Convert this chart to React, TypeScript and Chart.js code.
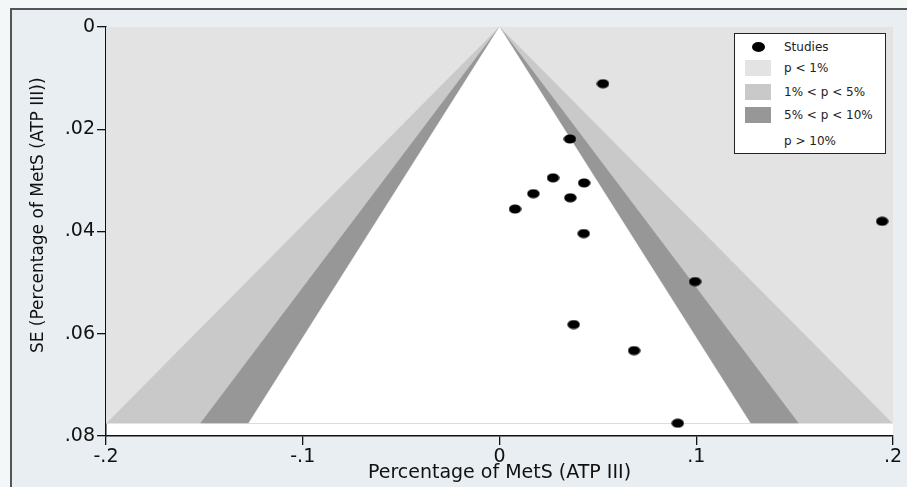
import React, { useEffect, useRef } from "react";
import { Chart, registerables } from "chart.js";

Chart.register(...registerables);

// Study estimates (effect) and their standard errors
const effects = [0.0526, 0.0358, 0.0272, 0.043, 0.0172, 0.036, 0.0079, 0.0428, 0.1945, 0.0994, 0.0377, 0.0684, 0.0906];
const ses = [0.0111, 0.0219, 0.0295, 0.0305, 0.0326, 0.0334, 0.0356, 0.0404, 0.038, 0.0498, 0.0582, 0.0633, 0.0775];

// Contour z values for p = 1%, 5%, 10%
const contourZ = [2.576, 1.96, 1.645];
const contourColors = ["#c9c9c9", "#979797", "#ffffff"];
const outerColor = "#e3e3e3";

const legendLabels = ["Studies", "p < 1%", "1% < p < 5%", "5% < p < 10%", "p > 10%"];
const legendColors = ["#000000", outerColor, "#c9c9c9", "#979797", "#ffffff"];

const xTicks = [-0.2, -0.1, 0, 0.1, 0.2];
const yTicks = [0, 0.02, 0.04, 0.06, 0.08];

const xTitle = "Percentage of MetS (ATP III)";
const yTitle = "SE (Percentage of MetS (ATP III))";

const FONT = "'DejaVu Sans', 'Liberation Sans', Arial, sans-serif";

function fmt(v: number, d: number) {
  let s = Number(v).toFixed(d).replace(/0+$/, "").replace(/\.$/, "");
  s = s.replace(/^(-?)0\./, "$1.");
  if (s === "-0") s = "0";
  return s;
}

function makeEllipse(): HTMLCanvasElement {
  const c = document.createElement("canvas");
  c.width = 13;
  c.height = 10;
  const ctx = c.getContext("2d")!;
  ctx.fillStyle = "#000";
  ctx.beginPath();
  ctx.ellipse(6.5, 5, 6.2, 4.6, 0, 0, Math.PI * 2);
  ctx.fill();
  return c;
}

const whiteArea = {
  id: "whiteArea",
  beforeDraw(chart: any) {
    const { ctx, chartArea } = chart;
    ctx.save();
    ctx.fillStyle = "#ffffff";
    ctx.fillRect(chartArea.left, chartArea.top, chartArea.right - chartArea.left, chartArea.bottom - chartArea.top);
    ctx.restore();
  },
};

export default function App() {
  const ref = useRef<HTMLCanvasElement>(null);

  useEffect(() => {
    if (!ref.current) return;
    const maxSE = Math.max(...ses);
    const ell = makeEllipse();

    const regionSets: any[] = contourZ.map((z, i) => ({
      label: "z" + z,
      data: [
        { x: -z * maxSE, y: maxSE },
        { x: 0, y: 0 },
        { x: z * maxSE, y: maxSE },
      ],
      showLine: true,
      fill: { value: maxSE },
      backgroundColor: contourColors[i],
      borderColor: contourColors[i],
      borderWidth: 0.6,
      pointRadius: 0,
      order: 3 - i,
    }));

    const chart = new Chart(ref.current, {
      type: "scatter",
      data: {
        datasets: [
          {
            label: "Studies",
            data: effects.map((e, i) => ({ x: e, y: ses[i] })),
            pointStyle: ell as any,
            pointRadius: 6,
            backgroundColor: "#000",
            borderColor: "#000",
            order: 0,
          },
          ...regionSets,
          {
            label: "outer",
            data: [
              { x: xTicks[0], y: maxSE },
              { x: xTicks[xTicks.length - 1], y: maxSE },
            ],
            showLine: true,
            fill: { value: 0 },
            backgroundColor: outerColor,
            borderColor: "#dcdcdc",
            borderWidth: 0.6,
            pointRadius: 0,
            order: 4,
          },
        ] as any,
      },
      options: {
        animation: false,
        responsive: false,
        devicePixelRatio: 1,
        layout: { padding: { top: 27, right: 14, bottom: 0, left: 0 } },
        plugins: { legend: { display: false }, tooltip: { enabled: false } },
        scales: {
          x: {
            type: "linear",
            min: xTicks[0],
            max: xTicks[xTicks.length - 1],
            afterBuildTicks: (s: any) => {
              s.ticks = xTicks.map((v) => ({ value: v }));
            },
            afterFit: (s: any) => {
              s.height = 51;
            },
            ticks: {
              color: "#111",
              font: { family: FONT, size: 19 },
              padding: 1,
              maxRotation: 0,
              callback: (v: any) => fmt(Number(v), 1),
            },
            grid: { drawOnChartArea: false, drawTicks: true, tickLength: 9, color: "#111", lineWidth: 1.3 },
            border: { display: true, color: "#111", width: 1.5 },
            title: {
              display: true,
              text: xTitle,
              color: "#111",
              font: { family: FONT, size: 19 },
              padding: { top: 0, bottom: 3 },
            },
          },
          y: {
            type: "linear",
            reverse: true,
            min: yTicks[0],
            max: yTicks[yTicks.length - 1],
            afterBuildTicks: (s: any) => {
              s.ticks = yTicks.map((v) => ({ value: v }));
            },
            afterFit: (s: any) => {
              s.width = 106;
            },
            ticks: {
              color: "#111",
              font: { family: FONT, size: 19 },
              padding: 2,
              callback: (v: any) => fmt(Number(v), 2),
            },
            grid: { drawOnChartArea: false, drawTicks: true, tickLength: 9, color: "#111", lineWidth: 1.3 },
            border: { display: true, color: "#111", width: 1.5 },
            title: {
              display: true,
              text: "      " + yTitle,
              color: "#111",
              font: { family: FONT, size: 17 },
              padding: { top: 28, bottom: 0 },
            },
          },
        },
      },
      plugins: [whiteArea],
    });
    return () => chart.destroy();
  }, []);

  const rowCenters = [13, 34, 58, 81, 107];

  return (
    <div style={{ position: "absolute", left: 0, top: 0, width: 907, height: 487, background: "#f4f7f8", overflow: "hidden" }}>
      <div
        style={{
          position: "absolute",
          left: 10,
          top: 8,
          right: 0,
          bottom: 0,
          background: "#e8eef1",
          borderLeft: "2px solid #555",
          borderTop: "2px solid #555",
        }}
      />
      <canvas ref={ref} width={907} height={487} style={{ position: "absolute", left: 0, top: 0, width: 907, height: 487 }} />
      <div
        style={{
          position: "absolute",
          left: 734,
          top: 33,
          width: 152,
          height: 121,
          boxSizing: "border-box",
          border: "1px solid #222",
          background: "#ffffff",
          fontFamily: FONT,
          fontSize: 12,
          color: "#222",
        }}
      >
        {legendLabels.map((lab, i) => (
          <React.Fragment key={lab}>
            {i === 0 ? (
              <div
                style={{
                  position: "absolute",
                  left: 17,
                  top: rowCenters[i] - 5,
                  width: 13,
                  height: 10,
                  borderRadius: "50%",
                  background: legendColors[i],
                }}
              />
            ) : i < 4 ? (
              <div
                style={{
                  position: "absolute",
                  left: 10,
                  top: rowCenters[i] - 8,
                  width: 26,
                  height: 16,
                  background: legendColors[i],
                }}
              />
            ) : null}
            <div
              style={{
                position: "absolute",
                left: 49,
                top: rowCenters[i] - 7,
                lineHeight: "14px",
                whiteSpace: "nowrap",
              }}
            >
              {lab}
            </div>
          </React.Fragment>
        ))}
      </div>
    </div>
  );
}
